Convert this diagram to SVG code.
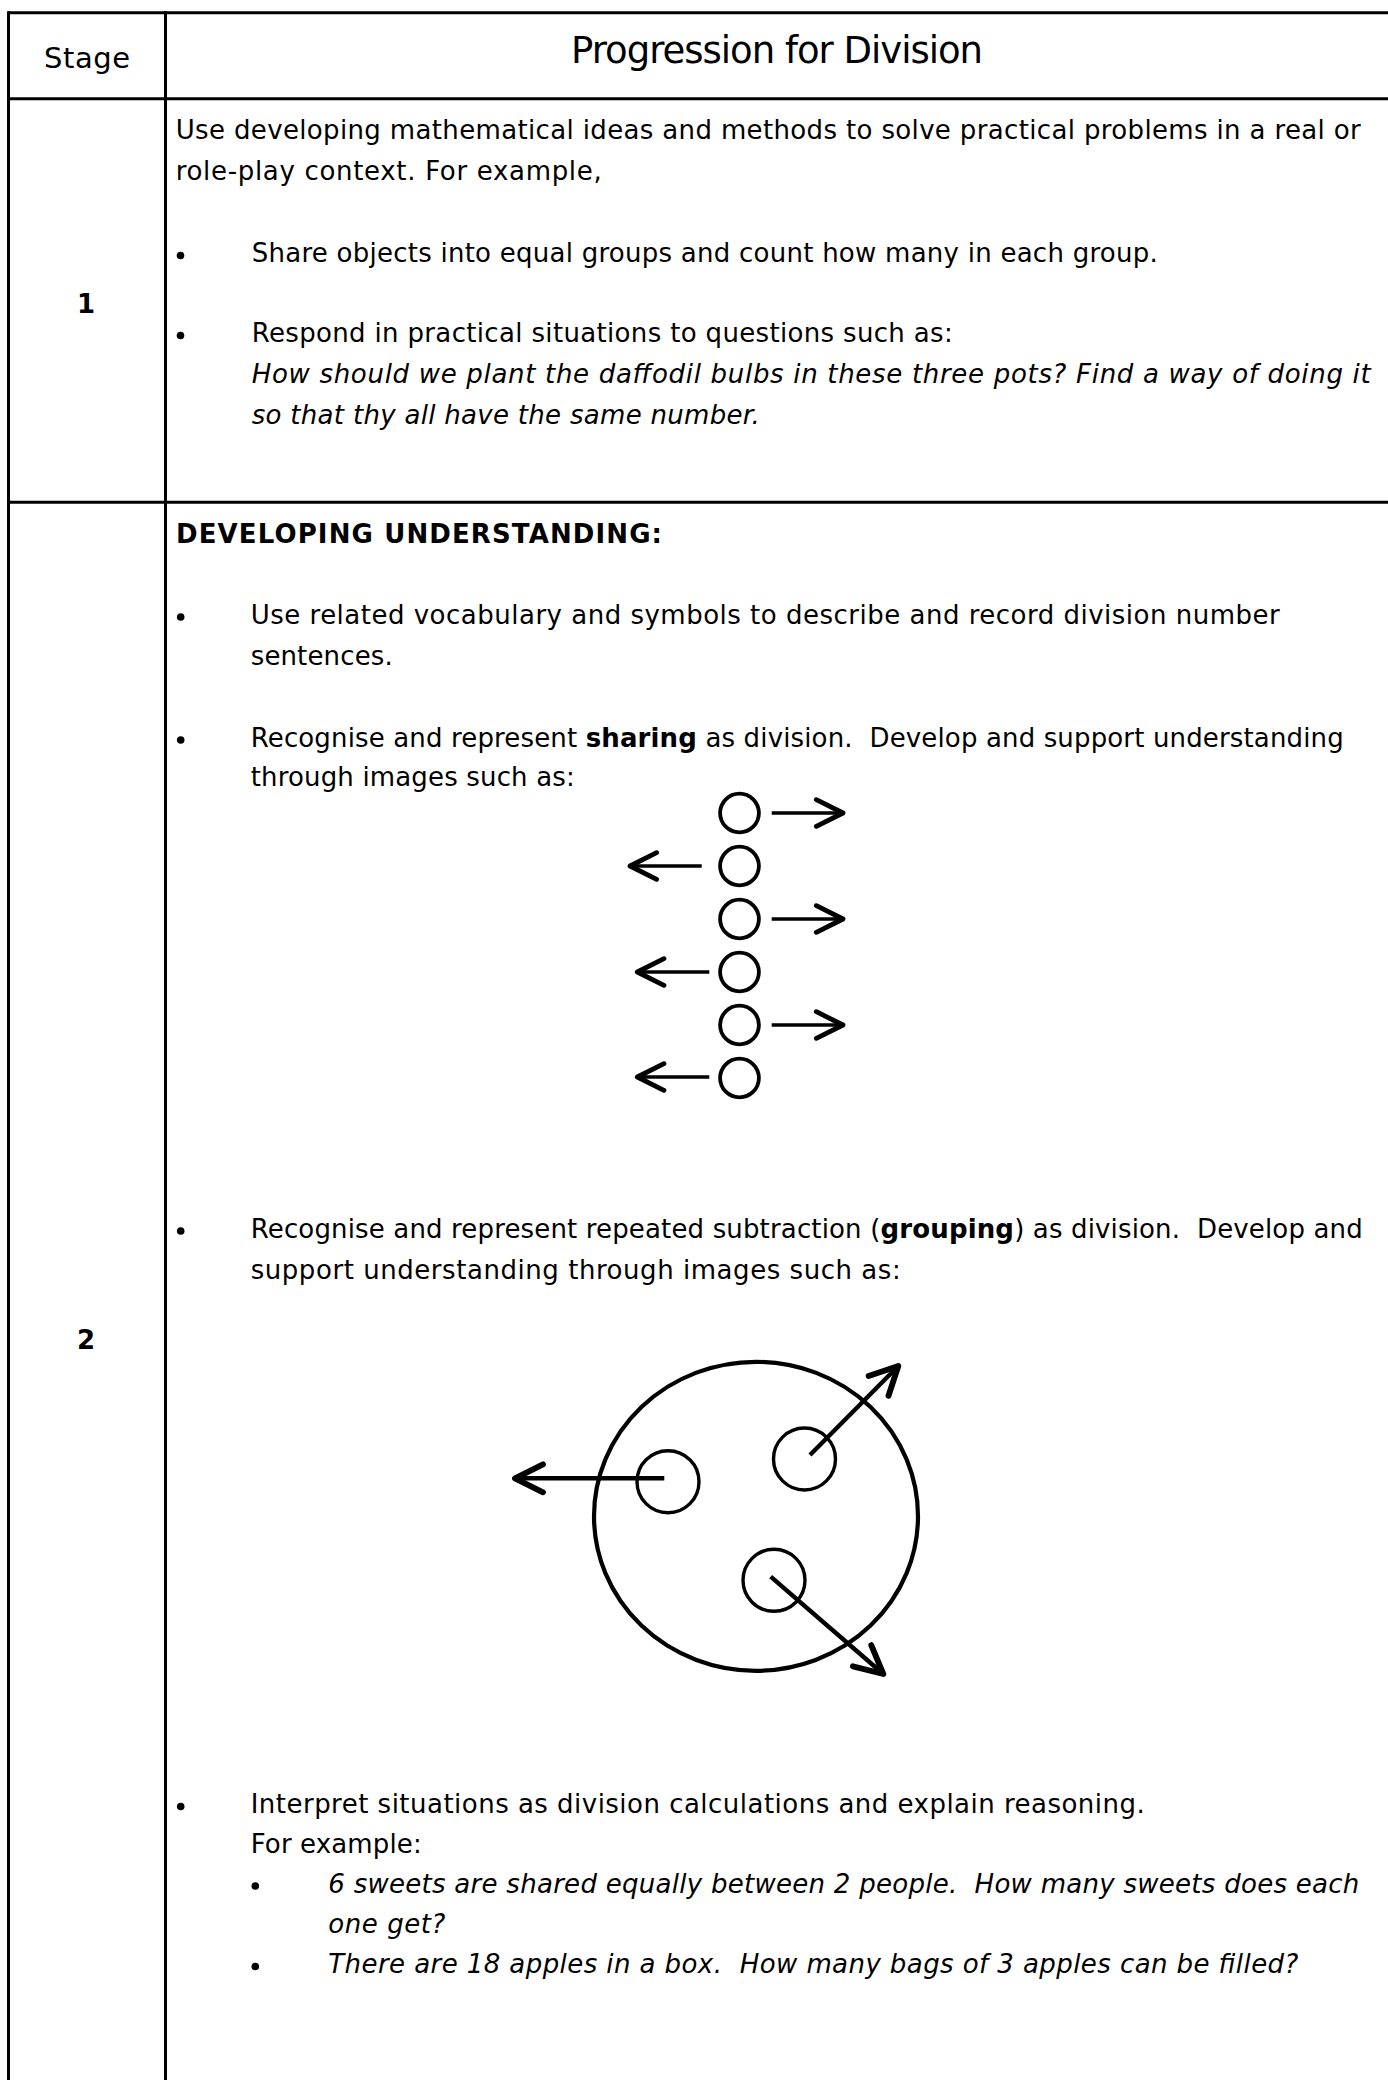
<svg xmlns="http://www.w3.org/2000/svg" width="1388" height="2080" viewBox="0 0 1388 2080">
<defs>
<style>
.grid{stroke:#000;stroke-width:3;fill:none}
.t{font-family:"DejaVu Sans","Liberation Sans",sans-serif;font-size:26px;fill:#000;white-space:pre}
.i{font-style:italic}
.b{font-weight:bold}
.hd{font-size:29px}
.ttl{font-size:37px}
.bul{fill:#000}
.c{fill:none;stroke:#000;stroke-width:3.8}
.s{fill:none;stroke:#000;stroke-width:3.4}
.big{fill:none;stroke:#000;stroke-width:4.2}
.a{fill:none;stroke:#000;stroke-width:3.6;marker-end:url(#head)}
.a2{fill:none;stroke:#000;stroke-width:4.4;marker-end:url(#head2)}
</style>
<marker id="head" markerUnits="userSpaceOnUse" markerWidth="40" markerHeight="40" viewBox="-25 -15 30 30" refX="0" refY="0" orient="auto" overflow="visible">
<path d="M-20,-10 L0,0 L-20,10" fill="none" stroke="#000" stroke-width="3.6" stroke-linecap="round" stroke-linejoin="round"/>
</marker>
<marker id="head2" markerUnits="userSpaceOnUse" markerWidth="40" markerHeight="40" viewBox="-25 -15 30 30" refX="0" refY="0" orient="auto" overflow="visible">
<path d="M-21,-10.5 L0,0 L-21,10.5" fill="none" stroke="#000" stroke-width="4.4" stroke-linecap="round" stroke-linejoin="round"/>
</marker>
</defs>
<rect width="1388" height="2080" fill="#fff"/>

<g id="table-grid">
<line class="grid" x1="8.5" y1="12.7" x2="1388" y2="12.7"/>
<line class="grid" x1="8.5" y1="98.7" x2="1388" y2="98.7"/>
<line class="grid" x1="8.5" y1="502.3" x2="1388" y2="502.3"/>
<line class="grid" x1="8.5" y1="11.2" x2="8.5" y2="2080"/>
<line class="grid" x1="165.5" y1="11.2" x2="165.5" y2="2080"/>
</g>

<g id="header">
<text class="t hd" x="87" y="68.3" text-anchor="middle" textLength="86">Stage</text>
<text class="t ttl" x="777" y="63.3" text-anchor="middle" textLength="412">Progression for Division</text>
</g>

<g id="stage-1">
<text class="t b" x="86" y="312.7" text-anchor="middle">1</text>
<text class="t" x="175.7" y="139" textLength="1185">Use developing mathematical ideas and methods to solve practical problems in a real or</text>
<text class="t" x="175.7" y="180" textLength="426">role-play context. For example,</text>
<circle class="bul" cx="180.5" cy="255.5" r="3.8"/>
<text class="t" x="251.7" y="261.7" textLength="906">Share objects into equal groups and count how many in each group.</text>
<circle class="bul" cx="180.5" cy="335.5" r="3.8"/>
<text class="t" x="251.7" y="341.7" textLength="701">Respond in practical situations to questions such as:</text>
<text class="t i" x="251.7" y="382.7" textLength="1119">How should we plant the daffodil bulbs in these three pots? Find a way of doing it</text>
<text class="t i" x="251.7" y="423.7" textLength="508">so that thy all have the same number.</text>
</g>

<g id="stage-2">
<text class="t b" x="86" y="1349" text-anchor="middle">2</text>
<text class="t b" x="176" y="543.3" textLength="486">DEVELOPING UNDERSTANDING:</text>
<circle class="bul" cx="180.7" cy="617" r="3.8"/>
<text class="t" x="250.7" y="624" textLength="1029">Use related vocabulary and symbols to describe and record division number</text>
<text class="t" x="250.7" y="665" textLength="142">sentences.</text>
<circle class="bul" cx="180.7" cy="740" r="3.8"/>
<text class="t" x="250.7" y="746.7" textLength="1093">Recognise and represent <tspan class="b">sharing</tspan> as division.  Develop and support understanding</text>
<text class="t" x="250.7" y="786" textLength="324">through images such as:</text>
<circle class="bul" cx="180.7" cy="1231" r="3.8"/>
<text class="t" x="250.7" y="1237.5" textLength="1112">Recognise and represent repeated subtraction (<tspan class="b">grouping</tspan>) as division.  Develop and</text>
<text class="t" x="250.7" y="1278.5" textLength="650">support understanding through images such as:</text>
<circle class="bul" cx="180.7" cy="1806.5" r="3.8"/>
<text class="t" x="250.7" y="1813" textLength="894">Interpret situations as division calculations and explain reasoning.</text>
<text class="t" x="250.7" y="1853" textLength="171">For example:</text>
<circle class="bul" cx="255.3" cy="1886" r="3.8"/>
<text class="t i" x="328.3" y="1893" textLength="1031">6 sweets are shared equally between 2 people.  How many sweets does each</text>
<text class="t i" x="328.3" y="1933" textLength="117">one get?</text>
<circle class="bul" cx="255.3" cy="1966.5" r="3.8"/>
<text class="t i" x="328.3" y="1973" textLength="970">There are 18 apples in a box.  How many bags of 3 apples can be filled?</text>
</g>

<g id="sharing-diagram">
<circle class="c" cx="739.5" cy="813" r="19.4"/>
<circle class="c" cx="739.5" cy="866" r="19.4"/>
<circle class="c" cx="739.5" cy="919" r="19.4"/>
<circle class="c" cx="739.5" cy="972" r="19.4"/>
<circle class="c" cx="739.5" cy="1025" r="19.4"/>
<circle class="c" cx="739.5" cy="1078" r="19.4"/>
</g>

<g id="grouping-diagram">
<ellipse class="big" cx="756" cy="1516.3" rx="162" ry="154.5"/>
<circle class="s" cx="668" cy="1481.7" r="31"/>
<circle class="s" cx="804.5" cy="1459" r="31"/>
<circle class="s" cx="774" cy="1580.3" r="31"/>
</g>

<g id="connectors">
<line class="a" x1="771.7" y1="813" x2="843" y2="813"/>
<line class="a" x1="771.7" y1="919" x2="843" y2="919"/>
<line class="a" x1="771.7" y1="1025" x2="843" y2="1025"/>
<line class="a" x1="701.7" y1="866" x2="630" y2="866"/>
<line class="a" x1="709.3" y1="972" x2="637.3" y2="972"/>
<line class="a" x1="709.3" y1="1077" x2="637.3" y2="1077"/>
<line class="a2" x1="664.3" y1="1478.3" x2="515" y2="1478.3"/>
<line class="a2" x1="810" y1="1455" x2="898.3" y2="1366"/>
<line class="a2" x1="770.7" y1="1576.7" x2="883.3" y2="1674"/>
</g>
</svg>
